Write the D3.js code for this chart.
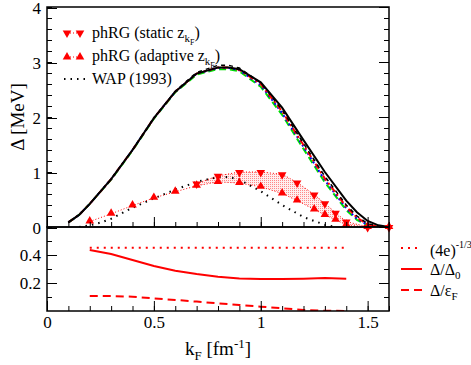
<!DOCTYPE html>
<html>
<head>
<meta charset="utf-8">
<script src="https://cdn.jsdelivr.net/npm/d3@7"></script>
<style>
  body { margin: 0; background: #fff; }
  svg text { font-family: "Liberation Serif", "Times New Roman", Tinos, "DejaVu Serif", serif; fill: #000; }
</style>
</head>
<body>
<div class="chart"></div>
<script>
// gap curves (all on the same kF grid)
var kGrid = [0.1, 0.15, 0.2, 0.3, 0.4, 0.5, 0.6, 0.7, 0.8, 0.85, 0.9, 1.0, 1.1, 1.2, 1.3, 1.4, 1.45, 1.5, 1.55, 1.6];
var gapBlack  = [0.085, 0.22, 0.42, 0.87, 1.40, 1.98, 2.46, 2.79, 2.90, 2.90, 2.87, 2.63, 2.17, 1.58, 1.00, 0.48, 0.27, 0.11, 0.03, 0.0];
var gapDashed = [0.085, 0.22, 0.42, 0.87, 1.40, 1.98, 2.47, 2.81, 2.94, 2.94, 2.89, 2.62, 2.13, 1.52, 0.92, 0.40, 0.20, 0.06, 0.01, 0.0];
var gapRed    = [0.085, 0.22, 0.42, 0.87, 1.40, 1.98, 2.46, 2.79, 2.90, 2.90, 2.86, 2.60, 2.10, 1.49, 0.88, 0.37, 0.17, 0.05, 0.0, 0.0];
var gapBlue   = [0.085, 0.22, 0.42, 0.87, 1.40, 1.98, 2.46, 2.79, 2.89, 2.89, 2.85, 2.58, 2.07, 1.46, 0.85, 0.34, 0.15, 0.04, 0.0, 0.0];
var gapGreen  = [0.085, 0.22, 0.42, 0.86, 1.39, 1.97, 2.45, 2.77, 2.87, 2.87, 2.83, 2.55, 2.04, 1.42, 0.81, 0.31, 0.13, 0.03, 0.0, 0.0];

// phRG points
var kAdaptive = [0.2, 0.3, 0.4, 0.5, 0.6, 0.7, 0.8, 0.9, 1.0, 1.1, 1.17, 1.25, 1.3, 1.35, 1.4, 1.5, 1.6];
var gapAdaptive = [0.10, 0.24, 0.39, 0.53, 0.64, 0.75, 0.82, 0.80, 0.73, 0.61, 0.48, 0.32, 0.22, 0.13, 0.04, 0.0, 0.0];
var kStatic = [0.7, 0.8, 0.9, 1.0, 1.1, 1.17, 1.25, 1.3, 1.35, 1.4, 1.5, 1.6];
var gapStatic = [0.79, 0.93, 1.00, 1.00, 0.96, 0.81, 0.59, 0.43, 0.26, 0.10, 0.0, 0.0];

// WAP (1993)
var kWAP = [0.15, 0.2, 0.25, 0.3, 0.4, 0.5, 0.6, 0.7, 0.8, 0.85, 0.9, 1.0, 1.1, 1.2, 1.3, 1.35];
var gapWAP = [0.0, 0.03, 0.08, 0.15, 0.35, 0.52, 0.68, 0.82, 0.91, 0.91, 0.86, 0.65, 0.40, 0.18, 0.04, 0.0];

// lower panel ratios
var kRatio = [0.2, 0.3, 0.4, 0.5, 0.6, 0.7, 0.8, 0.9, 1.0, 1.1, 1.2, 1.3, 1.4];
var ratioDelta0 = [0.436, 0.407, 0.364, 0.321, 0.288, 0.264, 0.245, 0.233, 0.229, 0.229, 0.231, 0.235, 0.231];
var ratioEpsF = [0.107, 0.107, 0.102, 0.090, 0.079, 0.067, 0.055, 0.043, 0.031, 0.019, 0.008, 0.002, 0.0];
var ratioBCS = [0.4514, 0.4514, 0.4514, 0.4514, 0.4514, 0.4514, 0.4514, 0.4514, 0.4514, 0.4514, 0.4514, 0.4514, 0.4514];

var xTicks = [0, 0.5, 1, 1.5];
var yTopTicks = [0, 1, 2, 3, 4];
var yBotTicks = [0.2, 0.4];

var W = 471, H = 365;
var left = 47, right = 389, top1 = 7, bot1 = 227, bot2 = 311;
var serif = '"Liberation Serif", "Times New Roman", Tinos, "DejaVu Serif", serif';

var svg = d3.select(".chart").append("svg")
    .attr("width", W)
    .attr("height", H);

var x = d3.scaleLinear().domain([0, 1.6]).range([left, right]);
var y = d3.scaleLinear().domain([0, 4]).range([bot1, top1]);
var y2 = d3.scaleLinear().domain([0, 0.6]).range([bot2, bot1]);

var defs = svg.append("defs");
var pat = defs.append("pattern")
    .attr("id", "dots")
    .attr("patternUnits", "userSpaceOnUse")
    .attr("width", 2)
    .attr("height", 2);
pat.append("rect").attr("width", 2).attr("height", 2).attr("fill", "#fff0f0");
pat.append("rect").attr("width", 1).attr("height", 1).attr("fill", "#ff8a8a");

defs.append("clipPath").attr("id", "clipTop")
  .append("rect").attr("x", left).attr("y", top1).attr("width", right - left).attr("height", bot1 - top1);
defs.append("clipPath").attr("id", "clipBot")
  .append("rect").attr("x", left).attr("y", bot1).attr("width", right - left).attr("height", bot2 - bot1);

// ---------- top panel ----------
var gTop = svg.append("g").attr("clip-path", "url(#clipTop)");

// band between static and adaptive
var bandData = kStatic.map(function(k, i) {
  var j = kAdaptive.indexOf(k);
  return {k: k, hi: gapStatic[i], lo: gapAdaptive[j]};
});
var band = d3.area()
    .x(function(d) { return x(d.k); })
    .y0(function(d) { return y(d.lo); })
    .y1(function(d) { return y(d.hi); });
gTop.append("path")
    .datum(bandData)
    .attr("d", band)
    .attr("fill", "url(#dots)")
    .attr("stroke", "none");

function lineOf(ks, vs, yy) {
  return d3.line()
    .x(function(d) { return x(d); })
    .y(function(d, i) { return yy(vs[i]); })(ks);
}

var curves = [
  {v: gapGreen, color: "#00e000", dash: "7,4", w: 2},
  {v: gapBlue, color: "#0000ff", dash: "2,3", w: 2},
  {v: gapRed, color: "#ff0000", dash: "6,3,2,3", w: 2},
  {v: gapDashed, color: "#000", dash: "4,4", w: 1.5},
  {v: gapBlack, color: "#000", dash: null, w: 2}
];
curves.forEach(function(c) {
  gTop.append("path")
    .attr("d", lineOf(kGrid, c.v, y))
    .attr("fill", "none")
    .attr("stroke", c.color)
    .attr("stroke-width", c.w)
    .attr("stroke-dasharray", c.dash);
});

// WAP dotted
gTop.append("path")
    .attr("d", lineOf(kWAP, gapWAP, y))
    .attr("fill", "none")
    .attr("stroke", "#000")
    .attr("stroke-width", 2)
    .attr("stroke-dasharray", "1.5,5");

// phRG connecting lines
gTop.append("path")
    .attr("d", lineOf(kAdaptive, gapAdaptive, y))
    .attr("fill", "none").attr("stroke", "#ff0000").attr("stroke-width", 1)
    .attr("stroke-dasharray", "1,2");
gTop.append("path")
    .attr("d", lineOf(kStatic, gapStatic, y))
    .attr("fill", "none").attr("stroke", "#ff0000").attr("stroke-width", 1)
    .attr("stroke-dasharray", "1,2");

var tri = d3.symbol().type(d3.symbolTriangle).size(32);
svg.append("g").selectAll("path")
    .data(kAdaptive)
  .enter().append("path")
    .attr("d", tri)
    .attr("fill", "#ff0000")
    .attr("transform", function(d, i) { return "translate(" + x(d) + "," + (y(gapAdaptive[i]) - 0.5) + ")"; });
svg.append("g").selectAll("path")
    .data(kStatic)
  .enter().append("path")
    .attr("d", tri)
    .attr("fill", "#ff0000")
    .attr("transform", function(d, i) { return "translate(" + x(d) + "," + (y(gapStatic[i]) + 0.5) + ") rotate(180)"; });

// ---------- bottom panel ----------
var gBot = svg.append("g").attr("clip-path", "url(#clipBot)");
gBot.append("path")
    .attr("d", lineOf(kRatio, ratioBCS, y2))
    .attr("fill", "none").attr("stroke", "#ff0000").attr("stroke-width", 2)
    .attr("stroke-dasharray", "2,5");
gBot.append("path")
    .attr("d", lineOf(kRatio, ratioDelta0, y2))
    .attr("fill", "none").attr("stroke", "#ff0000").attr("stroke-width", 2);
gBot.append("path")
    .attr("d", lineOf(kRatio, ratioEpsF, y2))
    .attr("fill", "none").attr("stroke", "#ff0000").attr("stroke-width", 2)
    .attr("stroke-dasharray", "8,5");

// ---------- axes ----------
function addAxis(axis, tx, ty) {
  var g = svg.append("g")
    .attr("transform", "translate(" + tx + "," + ty + ")")
    .attr("font-family", null)
    .call(axis);
  g.attr("font-family", null).attr("font-size", null);
  g.select(".domain").remove();
  g.selectAll("line").attr("stroke", "#000");
  g.selectAll("text")
    .style("font-family", serif)
    .style("font-size", "17px")
    .attr("fill", "#000");
  return g;
}
var minorX = d3.range(0, 1.61, 0.1).map(function(d) { return +d.toFixed(1); });
var minorYTop = d3.range(0, 4.01, 0.2).map(function(d) { return +d.toFixed(1); });
var minorYBot = [0.1, 0.3, 0.5];

// top panel
addAxis(d3.axisLeft(y).tickValues(yTopTicks).tickSize(-10).tickPadding(6).tickFormat(d3.format("d")), left, 1);
addAxis(d3.axisLeft(y).tickValues(minorYTop).tickSize(-5).tickFormat(""), left, 0);
addAxis(d3.axisRight(y).tickValues(yTopTicks).tickSize(-10).tickFormat(""), right, 0);
addAxis(d3.axisRight(y).tickValues(minorYTop).tickSize(-5).tickFormat(""), right, 0);
addAxis(d3.axisBottom(x).tickValues(xTicks).tickSize(-10).tickFormat(""), 0, bot1);
addAxis(d3.axisBottom(x).tickValues(minorX).tickSize(-5).tickFormat(""), 0, bot1);

// bottom panel
addAxis(d3.axisLeft(y2).tickValues(yBotTicks).tickSize(-10).tickPadding(6).tickFormat(d3.format(".1f")), left, 0);
addAxis(d3.axisLeft(y2).tickValues(minorYBot).tickSize(-5).tickFormat(""), left, 0);
addAxis(d3.axisRight(y2).tickValues(yBotTicks).tickSize(-10).tickFormat(""), right, 0);
addAxis(d3.axisRight(y2).tickValues(minorYBot).tickSize(-5).tickFormat(""), right, 0);
addAxis(d3.axisBottom(x).tickValues(xTicks).tickSize(-10).tickPadding(5).tickFormat(d3.format("")), 0, bot2);
addAxis(d3.axisBottom(x).tickValues(minorX).tickSize(-5).tickFormat(""), 0, bot2);

// frames
svg.append("rect")
    .attr("x", left).attr("y", top1)
    .attr("width", right - left).attr("height", bot1 - top1)
    .attr("fill", "none").attr("stroke", "#000").attr("stroke-width", 1.5);
svg.append("rect")
    .attr("x", left).attr("y", bot1)
    .attr("width", right - left).attr("height", bot2 - bot1)
    .attr("fill", "none").attr("stroke", "#000").attr("stroke-width", 1.5);

// axis titles
var yt = svg.append("text")
    .attr("transform", "translate(24," + ((top1 + bot1) / 2) + ") rotate(-90)")
    .attr("text-anchor", "middle")
    .style("font-size", "19px");
yt.append("tspan").text("\u0394 [MeV]");

var xt = svg.append("text")
    .attr("x", 218)
    .attr("y", 355)
    .attr("text-anchor", "middle")
    .style("font-size", "19px");
xt.append("tspan").text("k");
xt.append("tspan").attr("dy", 5).style("font-size", "13px").text("F");
xt.append("tspan").attr("dy", -5).text(" [fm");
xt.append("tspan").attr("dy", -7).style("font-size", "13px").text("-1");
xt.append("tspan").attr("dy", 7).text("]");

// ---------- legend (top) ----------
var lg = svg.append("g");
function legendRow(yy, kind) {
  if (kind === "WAP") {
    lg.append("line")
      .attr("x1", 64).attr("x2", 86).attr("y1", yy).attr("y2", yy)
      .attr("stroke", "#000").attr("stroke-width", 2).attr("stroke-dasharray", "1.5,5");
    return;
  }
  lg.append("line")
    .attr("x1", 67).attr("x2", 80).attr("y1", yy).attr("y2", yy)
    .attr("stroke", "#ff0000").attr("stroke-width", 1).attr("stroke-dasharray", "1,2");
  [67, 80].forEach(function(px) {
    lg.append("path")
      .attr("d", tri)
      .attr("fill", "#ff0000")
      .attr("transform", "translate(" + px + "," + yy + ")" + (kind === "static" ? " rotate(180)" : ""));
  });
}
legendRow(33, "static");
legendRow(57, "adaptive");
legendRow(79, "WAP");

function zLabel(yy, word) {
  var t = lg.append("text").attr("x", 92).attr("y", yy).style("font-size", "16px");
  t.append("tspan").text("phRG (" + word + " z");
  t.append("tspan").attr("dy", 4).style("font-size", "11px").text("k");
  t.append("tspan").attr("dy", 3).style("font-size", "8px").text("F");
  t.append("tspan").attr("dy", -7).text(")");
}
zLabel(38, "static");
zLabel(61, "adaptive");
lg.append("text").attr("x", 92).attr("y", 84).style("font-size", "16px").text("WAP (1993)");

// ---------- legend (bottom) ----------
var lb = svg.append("g");
lb.append("line").attr("x1", 401).attr("x2", 422).attr("y1", 248).attr("y2", 248)
  .attr("stroke", "#ff0000").attr("stroke-width", 2).attr("stroke-dasharray", "2,5");
lb.append("line").attr("x1", 401).attr("x2", 422).attr("y1", 269).attr("y2", 269)
  .attr("stroke", "#ff0000").attr("stroke-width", 2);
lb.append("line").attr("x1", 401).attr("x2", 422).attr("y1", 290).attr("y2", 290)
  .attr("stroke", "#ff0000").attr("stroke-width", 2).attr("stroke-dasharray", "8,5");

var t1 = lb.append("text").attr("x", 430).attr("y", 256).style("font-size", "16px");
t1.append("tspan").text("(4e)");
t1.append("tspan").attr("dy", -8).style("font-size", "10px").text("-1/3");

var t2 = lb.append("text").attr("x", 430).attr("y", 275).style("font-size", "16px");
t2.append("tspan").text("\u0394/\u0394");
t2.append("tspan").attr("dy", 4).style("font-size", "11px").text("0");

var t3 = lb.append("text").attr("x", 430).attr("y", 296).style("font-size", "16px");
t3.append("tspan").text("\u0394/\u03b5");
t3.append("tspan").attr("dy", 4).style("font-size", "11px").text("F");
</script>
</body>
</html>
